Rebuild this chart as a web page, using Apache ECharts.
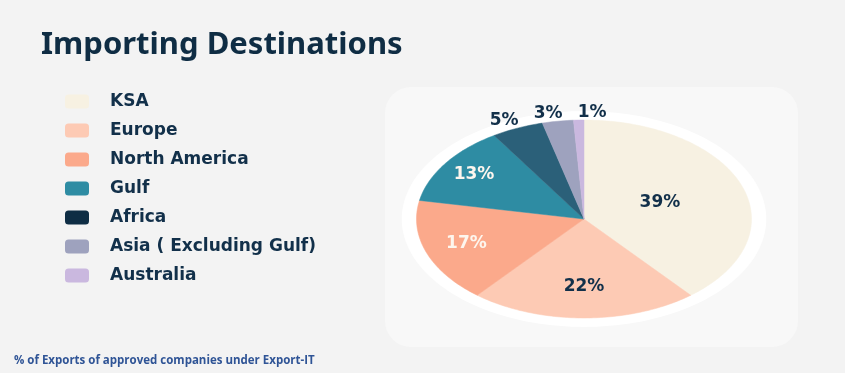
<!DOCTYPE html>
<html>
<head>
<meta charset="utf-8">
<script src="https://cdn.jsdelivr.net/npm/echarts@6/dist/echarts.min.js"></script>
<style>
html,body{margin:0;padding:0;background:#ffffff;}
#chart{width:845px;height:373px;}
</style>
</head>
<body>
<div id="chart"></div>
<script>
// ---- data ----
var titleText = 'Importing Destinations';
var footerText = '% of Exports of approved companies under Export-IT';
var categories = ['KSA', 'Europe', 'North America', 'Gulf', 'Africa', 'Asia ( Excluding Gulf)', 'Australia'];
var values = [39, 22, 17, 13, 5, 3, 1];
var sliceColors = ['#f7f1e2', '#fdcab4', '#fba98b', '#2e8ca3', '#2b6079', '#9ea2be', '#cab8df'];
var legendColors = ['#f7f1e2', '#fdcab4', '#fba98b', '#2e8ca3', '#0e2d44', '#9ea2be', '#cab8df'];
var labelColors = ['#12304a', '#12304a', '#fdf6ee', '#fdf6ee', '#12304a', '#12304a', '#12304a'];

var total = values.reduce(function (a, b) { return a + b; }, 0);
var cum = [0];
values.forEach(function (v, i) { cum.push(cum[i] + v); });

// outside-label spreading (applied in pixels along x, relative to pie centre)
var RX = 167.5, OUT_RX = 1.1, OUT_RY = 1.08, MIN_GAP = 44;
var outIdx = [];
values.forEach(function (v, i) { if (v / total < 0.1) outIdx.push(i); });
var outShift = {};
(function () {
  var ideal = outIdx.map(function (i) {
    var mid = (cum[i] + cum[i + 1]) / 2 / total * Math.PI * 2;
    return OUT_RX * Math.sin(mid) * RX;
  });
  var placed = ideal.slice();
  for (var k = placed.length - 2; k >= 0; k--) {
    placed[k] = Math.min(placed[k], placed[k + 1] - MIN_GAP);
  }
  var mi = ideal.reduce(function (a, b) { return a + b; }, 0) / ideal.length;
  var mp = placed.reduce(function (a, b) { return a + b; }, 0) / placed.length;
  outIdx.forEach(function (i, k) { outShift[i] = (placed[k] + (mi - mp)) / RX; });
})();

var chart = echarts.init(document.getElementById('chart'));

function sliceSeries(i) {
  return {
    type: 'custom',
    name: categories[i],
    coordinateSystem: 'cartesian2d',
    itemStyle: { color: sliceColors[i] },
    data: [[0, values[i]]],
    z: 3,
    renderItem: function (params, api) {
      var a0 = cum[i] / total * Math.PI * 2;
      var a1 = cum[i + 1] / total * Math.PI * 2;
      var steps = Math.max(4, Math.ceil((a1 - a0) / 0.02));
      var pts = [api.coord([0, 0])];
      for (var k = 0; k <= steps; k++) {
        var t = a0 + (a1 - a0) * k / steps;
        pts.push(api.coord([Math.sin(t), Math.cos(t)]));
      }
      var share = values[i] / total;
      var mid = (a0 + a1) / 2;
      var lx, ly;
      if (share >= 0.1) {
        var r = 0.95 - share * 1.2;
        lx = r * Math.sin(mid); ly = r * Math.cos(mid);
      } else {
        lx = outShift[i]; ly = OUT_RY * Math.cos(mid);
      }
      var lp = api.coord([lx, ly]);
      return {
        type: 'group',
        children: [
          { type: 'polygon', shape: { points: pts }, style: { fill: sliceColors[i], stroke: sliceColors[i], lineWidth: 0.5 } },
          { type: 'text', x: lp[0], y: lp[1], z2: 10,
            style: { text: Math.round(share * 100) + '%', fill: labelColors[i], font: 'bold 17px "DejaVu Sans"',
                     align: 'center', verticalAlign: 'middle' } }
        ]
      };
    }
  };
}

var series = [{
  type: 'custom',
  name: '__backdrop',
  coordinateSystem: 'cartesian2d',
  data: [[0, 0]],
  silent: true,
  z: 2,
  renderItem: function (params, api) {
    var pts = [];
    for (var k = 0; k < 180; k++) {
      var t = k / 180 * Math.PI * 2;
      pts.push(api.coord([1.088 * Math.sin(t), 1.09 * Math.cos(t)]));
    }
    return { type: 'polygon', shape: { points: pts }, style: { fill: '#ffffff' } };
  }
}];
categories.forEach(function (c, i) { series.push(sliceSeries(i)); });

chart.setOption({
  backgroundColor: '#f3f3f3',
  animation: false,
  title: {
    text: titleText,
    left: 36, top: 25,
    textStyle: { fontFamily: 'Noto Sans', fontWeight: 'bold', fontSize: 31, color: '#0f2d44' }
  },
  graphic: [
    { type: 'rect', left: 385, top: 87, shape: { width: 413, height: 260, r: 26 }, style: { fill: '#f8f8f8' }, z: -1, silent: true },
    { type: 'text', left: 14, top: 355, style: { text: footerText, font: 'bold 11.5px "Open Sans"', fill: '#2f5496' } }
  ],
  legend: {
    orient: 'vertical',
    left: 65, top: 93,
    padding: 0,
    icon: 'roundRect',
    itemWidth: 24, itemHeight: 14,
    itemGap: 12,
    textStyle: { fontFamily: 'DejaVu Sans', fontWeight: 'bold', fontSize: 17, color: '#12304a', padding: [0, 0, 0, 16] },
    data: categories.map(function (c, i) { return { name: c, itemStyle: { color: legendColors[i] } }; })
  },
  grid: { left: 416.5, top: 120, width: 335, height: 198, containLabel: false },
  xAxis: { type: 'value', min: -1, max: 1, show: false },
  yAxis: { type: 'value', min: -1, max: 1, show: false },
  series: series
});
</script>
</body>
</html>
